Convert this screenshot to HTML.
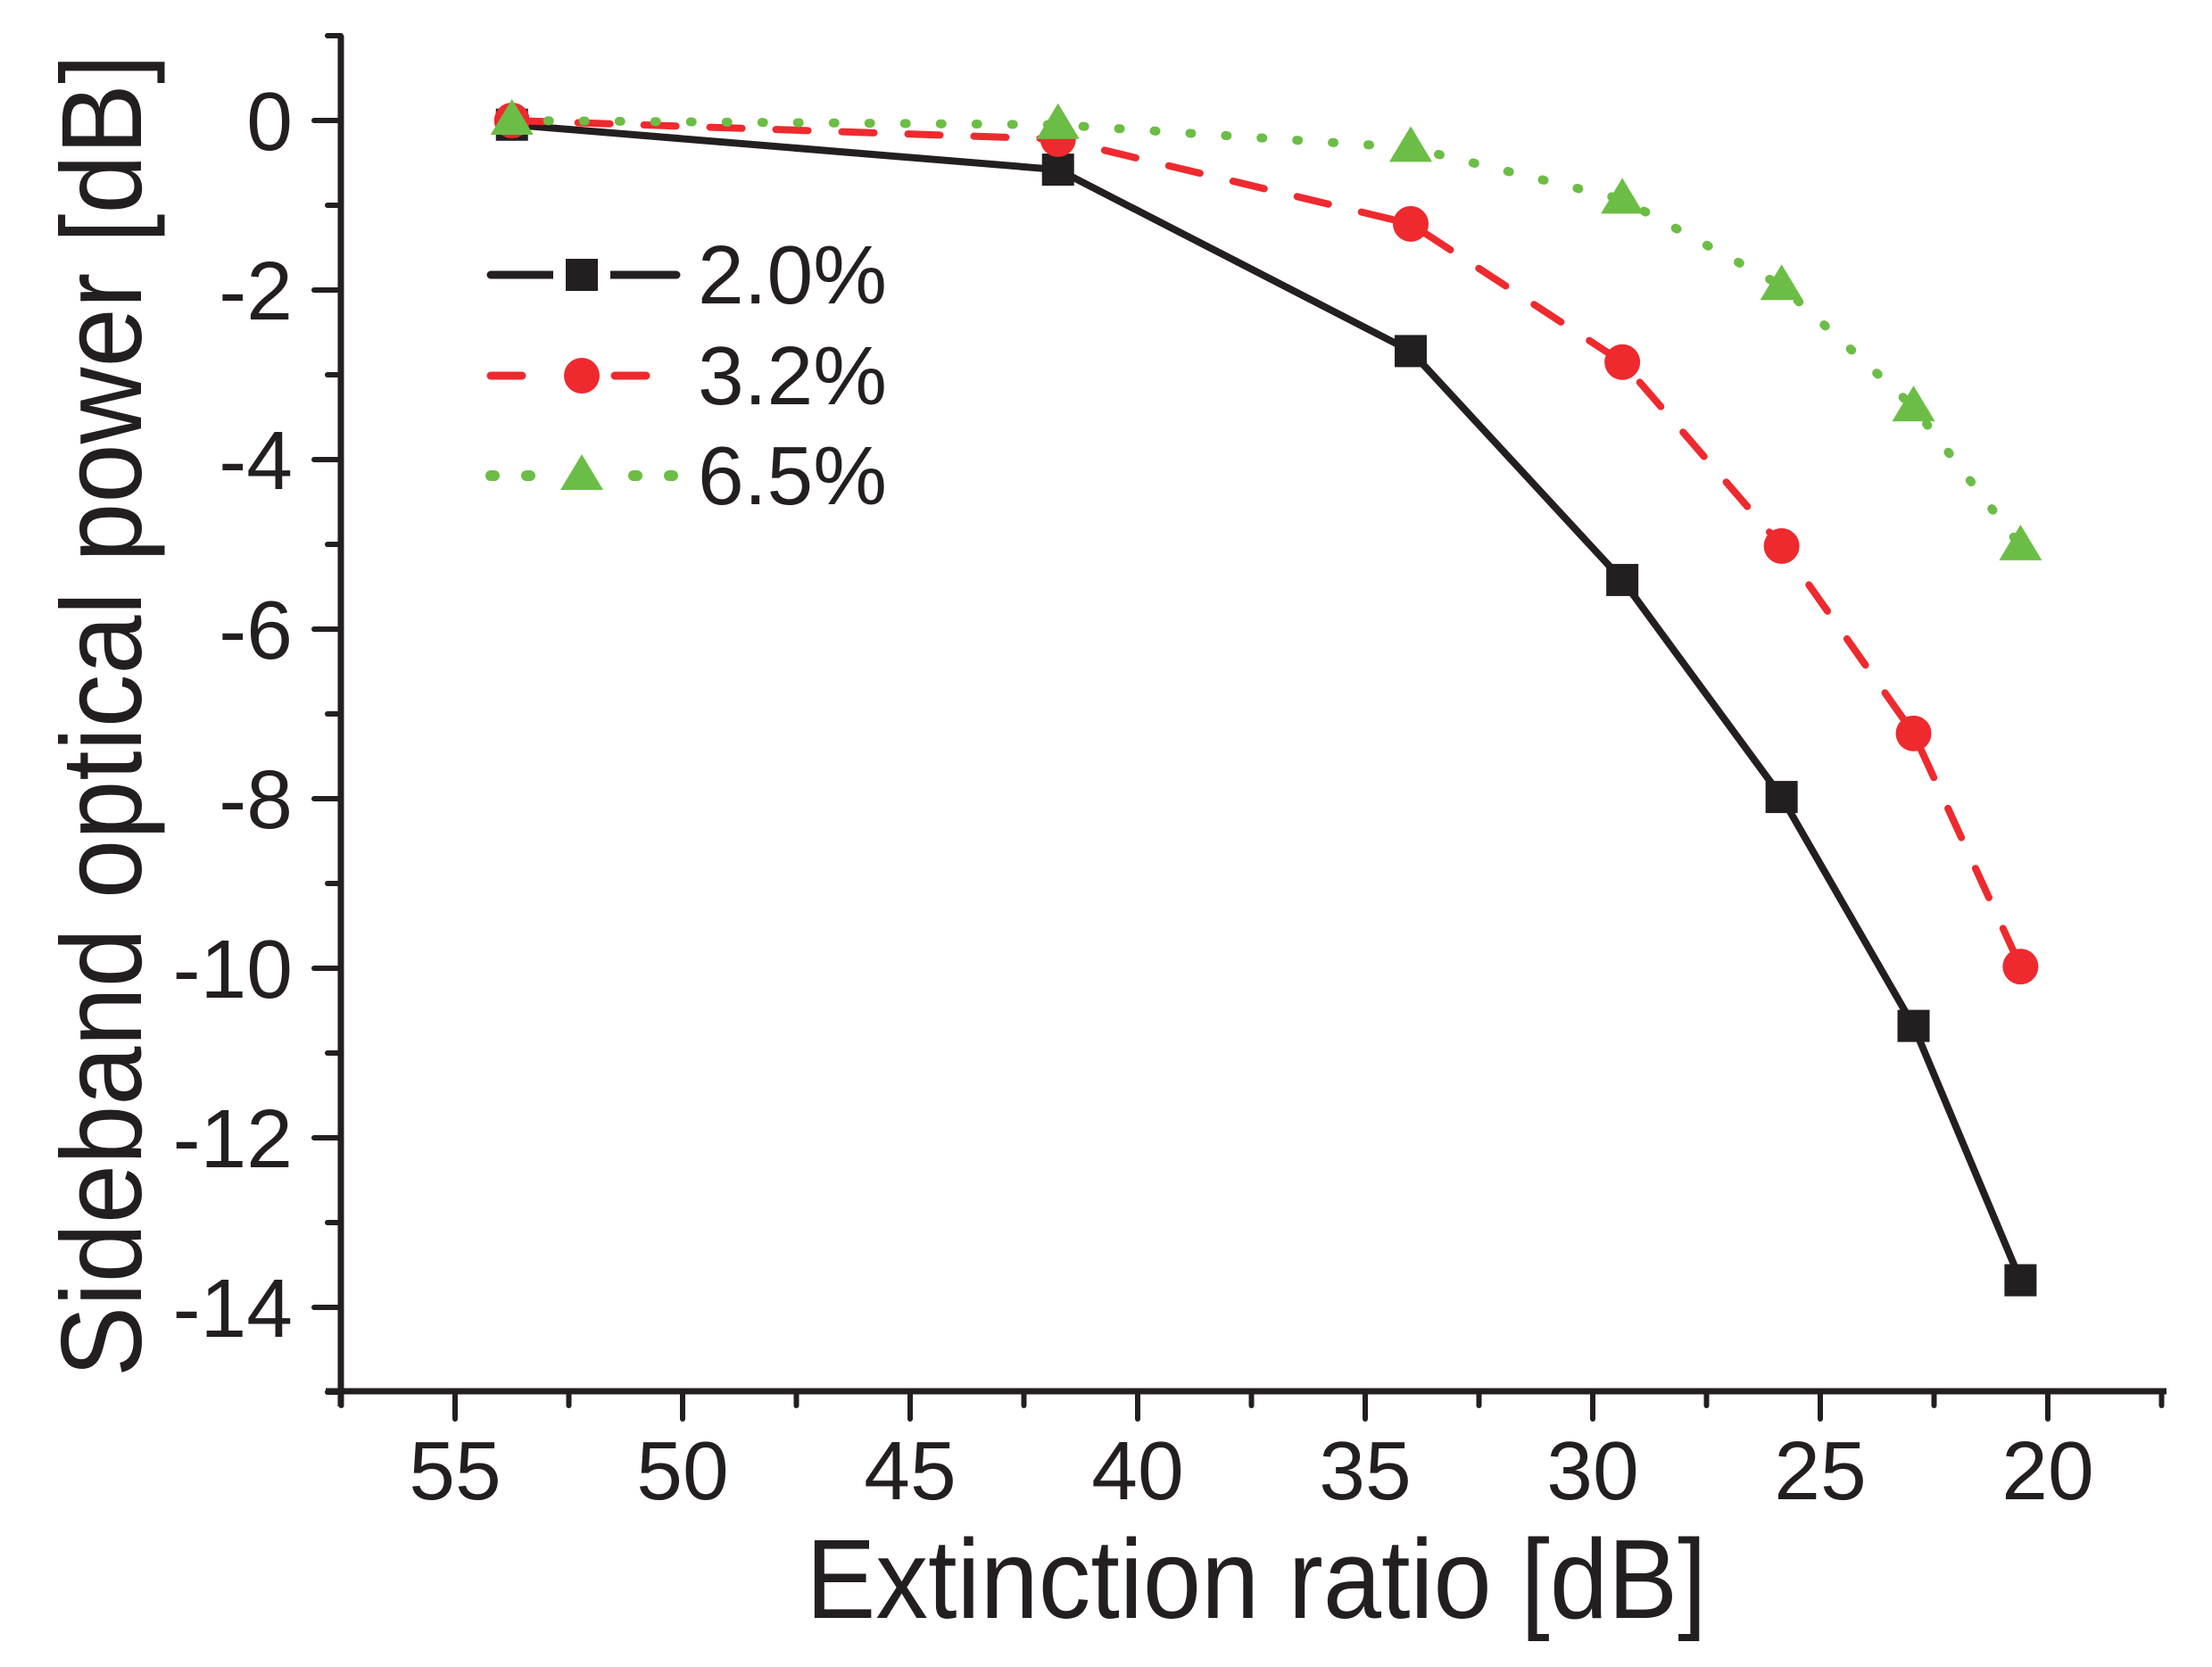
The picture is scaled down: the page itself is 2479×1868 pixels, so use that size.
<!DOCTYPE html>
<html><head><meta charset="utf-8"><style>
html,body{margin:0;padding:0;background:#fff;}
svg{display:block;}
text{font-family:"Liberation Sans",Arial,sans-serif;fill:#231f20;}
</style></head><body>
<svg id="chart" width="2479" height="1868" viewBox="0 0 2479 1868" xmlns="http://www.w3.org/2000/svg">
<g id="axes"></g>
<g id="series"></g>
<g id="legend"></g>
<text x="1408" y="1813" font-size="126" text-anchor="middle" transform="translate(1408 0) scale(0.93 1) translate(-1408 0)">Extinction ratio [dB]</text>
<text x="0" y="0" font-size="128" text-anchor="middle" transform="translate(158 802) rotate(-90) scale(0.93 1)">Sideband optical power [dB]</text>
</svg>
<script>
const xValues = [53.75, 41.75, 34.0, 29.35, 25.85, 22.95, 20.6];
const series20 = [-0.05, -0.58, -2.72, -5.42, -7.98, -10.68, -13.68];
const series32 = [0, -0.22, -1.22, -2.85, -5.02, -7.23, -9.98];
const series65 = [0, -0.05, -0.32, -0.93, -1.95, -3.38, -5.02];
const xTicks = [55, 50, 45, 40, 35, 30, 25, 20];
const yTicks = [0, -2, -4, -6, -8, -10, -12, -14];
const legendLabels = ["2.0%", "3.2%", "6.5%"];

const NS = "http://www.w3.org/2000/svg";
const X0 = 382, X1 = 2428, Y0 = 40, Y1 = 1559;
function xs(v){ return 510 + (55 - v) * 51.0; }
function ys(v){ return 135 - v * 95; }
function mk(tag, attrs, parent){ const e = document.createElementNS(NS, tag); for (const k in attrs) e.setAttribute(k, attrs[k]); parent.appendChild(e); return e; }
const axes = document.getElementById('axes');
const ser = document.getElementById('series');
const leg = document.getElementById('legend');
const dark = "#231f20";

let e = mk('line', {x1:X0, y1:Y0, x2:X0, y2:Y1+17, stroke:dark, 'stroke-width':7}, axes);


e = mk('line', {x1:X0-17, y1:Y1, x2:X1, y2:Y1, stroke:dark, 'stroke-width':7}, axes);



for (let v = 1; v >= -15; v--) {
  const major = (v % 2 === 0);
  const t = mk('line', {x1:X0 - (major ? 30 : 15), y1:ys(v), x2:X0, y2:ys(v), stroke:dark, 'stroke-width':6, 'stroke-linecap':'round'}, axes);
  
  
}
yTicks.forEach(v => {
  const t = mk('text', {x:328, y:ys(v) + 33, 'font-size':93, 'text-anchor':'end'}, axes);
  t.textContent = String(v);
  
  
});
for (let v = 57.5; v >= 17.5; v -= 2.5) {
  const major = (v % 5 === 0);
  const t = mk('line', {x1:xs(v), y1:Y1, x2:xs(v), y2:Y1 + (major ? 31 : 16), stroke:dark, 'stroke-width':6, 'stroke-linecap':'round'}, axes);
  
  
}
xTicks.forEach(v => {
  const t = mk('text', {x:xs(v), y:1680, 'font-size':93, 'text-anchor':'middle'}, axes);
  t.textContent = String(v);
  
  
});

const styles = [
  {data:series20, color:dark, dash:null, marker:'square', name:'2-0-percent'},
  {data:series32, color:"#ee2a2e", dash:'36 38', marker:'circle', name:'3-2-percent'},
  {data:series65, color:"#6cbd45", dash:'2 38', marker:'triangle', name:'6-5-percent'}
];
function marker(type, cx, cy, color, parent){
  let m;
  if (type === 'square') m = mk('rect', {x:cx-18, y:cy-18, width:36, height:36, fill:color}, parent);
  else if (type === 'circle') m = mk('circle', {cx:cx, cy:cy, r:20, fill:color}, parent);
  else m = mk('polygon', {points:`${cx},${cy-24} ${cx-24},${cy+16} ${cx+24},${cy+16}`, fill:color}, parent);
  return m;
}
styles.forEach((s, si) => {
  const pts = s.data.map((v, i) => xs(xValues[i]) + ',' + ys(v)).join(' ');
  const attrs = {points:pts, fill:'none', stroke:s.color, 'stroke-width':si===2?10:8, 'stroke-linecap':'round', 'stroke-linejoin':'round'};
  if (s.dash) attrs['stroke-dasharray'] = s.dash;
  const pl = mk('polyline', attrs, ser);
  
  
});
styles.forEach(s => {
  s.data.forEach((v, i) => {
    const m = marker(s.marker, xs(xValues[i]), ys(v), s.color, ser);
    
    
  });
});

const rowsY = [308, 421, 533];
styles.forEach((s, i) => {
  const y = rowsY[i];
  const a1 = {x1:550, y1:y, x2:758, y2:y, stroke:s.color, 'stroke-width':i===2 ? 12 : 9, 'stroke-linecap':'round'};
  if (s.dash) a1['stroke-dasharray'] = i===1 ? '35 104 35' : '4 36';
  const ln = mk('line', a1, leg);
  
  
  mk('rect', {x:620, y:y-12, width:64, height:24, fill:'#fff'}, leg);
  const m = marker(s.marker, 652, y, s.color, leg);
  
  
  const t = mk('text', {x:782, y:y + 32, 'font-size':93}, leg);
  t.textContent = legendLabels[i];
  
  
});
</script>
</body></html>
